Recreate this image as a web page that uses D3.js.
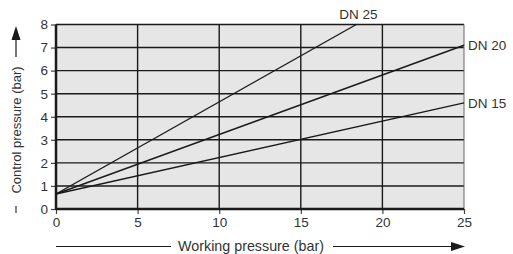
<!DOCTYPE html>
<html><head><meta charset="utf-8">
<script src="https://cdn.jsdelivr.net/npm/d3@7"></script>
<style>
body{margin:0;background:#fff;}
svg{display:block;font-family:"Liberation Sans",Arial,sans-serif;}
</style></head>
<body>
<svg id="c" width="513" height="254"></svg>
<script>
const xTicks = [0, 5, 10, 15, 20, 25];
const yTicks = [0, 1, 2, 3, 4, 5, 6, 7, 8];
const seriesNames = ["DN 25", "DN 20", "DN 15"];
const dn25 = [[0, 0.65], [18.4, 8]];
const dn20 = [[0, 0.65], [25, 7.1]];
const dn15 = [[0, 0.65], [25, 4.6]];
const xTitle = "Working pressure (bar)";
const yTitle = "Control pressure (bar)";

const svg = d3.select("#c");
const L = 56, R = 464, T = 24.5, B = 209;
const x = d3.scaleLinear().domain([0, 25]).range([L, R]);
const y = d3.scaleLinear().domain([0, 8]).range([B, T]);
const ink = "#1a1a1a", txt = "#333";

svg.append("rect").attr("x", L).attr("y", T).attr("width", R - L).attr("height", B - T).attr("fill", "#e6e6e6");

// grid
svg.append("g").selectAll("line").data(yTicks.filter(d => d > 0)).join("line")
  .attr("x1", L).attr("x2", R).attr("y1", d => y(d)).attr("y2", d => y(d))
  .attr("stroke", ink).attr("stroke-width", 1.4);
svg.append("g").selectAll("line").data(xTicks.filter(d => d > 0 && d < 25)).join("line")
  .attr("y1", T).attr("y2", B).attr("x1", d => x(d)).attr("x2", d => x(d))
  .attr("stroke", ink).attr("stroke-width", 1.4);
svg.append("line").attr("x1", R).attr("x2", R).attr("y1", T).attr("y2", B).attr("stroke", "#666").attr("stroke-width", 1);

// axes
const xAxis = d3.axisBottom(x).tickValues(xTicks).tickSize(5).tickPadding(3).tickFormat(d3.format("d"));
const gx = svg.append("g").attr("transform", `translate(0,${B})`).call(xAxis);
const yAxis = d3.axisLeft(y).tickValues(yTicks).tickSize(5).tickPadding(3).tickFormat(d3.format("d"));
const gy = svg.append("g").attr("transform", `translate(${L},0)`).call(yAxis);
[gx, gy].forEach(g => {
  g.select(".domain").remove();
  g.selectAll(".tick line").attr("stroke", "#444").attr("stroke-width", 1.2);
  g.selectAll(".tick text").attr("fill", txt).attr("font-size", 13.5).attr("font-family", "'Liberation Sans',Arial,sans-serif");
});
svg.append("line").attr("x1", L).attr("x2", R).attr("y1", B).attr("y2", B).attr("stroke", ink).attr("stroke-width", 2.5);
svg.append("line").attr("x1", L).attr("x2", L).attr("y1", T).attr("y2", B + 1).attr("stroke", ink).attr("stroke-width", 2.5);

// series
const line = d3.line().x(d => x(d[0])).y(d => y(d[1]));
[dn25, dn20, dn15].forEach(s => {
  svg.append("path").attr("d", line(s)).attr("fill", "none").attr("stroke", ink).attr("stroke-width", 1.4);
});

// labels
const fs = 13.5;
svg.append("text").attr("x", x(dn25[1][0]) - 17).attr("y", 19).text(seriesNames[0]).attr("font-size", fs).attr("fill", txt);
svg.append("text").attr("x", R + 4).attr("y", y(dn20[1][1]) + 5).text(seriesNames[1]).attr("font-size", fs).attr("fill", txt);
svg.append("text").attr("x", R + 4).attr("y", y(dn15[1][1]) + 5).text(seriesNames[2]).attr("font-size", fs).attr("fill", txt);

// x title with arrows
svg.append("text").attr("x", 251).attr("y", 251).attr("text-anchor", "middle").attr("font-size", 14.3).attr("fill", txt).text(xTitle);
svg.append("line").attr("x1", 56).attr("x2", 171).attr("y1", 246.5).attr("y2", 246.5).attr("stroke", ink).attr("stroke-width", 1.2);
svg.append("line").attr("x1", 333).attr("x2", 455).attr("y1", 246.5).attr("y2", 246.5).attr("stroke", ink).attr("stroke-width", 1.2);
svg.append("path").attr("d", "M465,246.5 L451,242 L451,251 Z").attr("fill", ink);

// y title with arrows
svg.append("text").attr("transform", "translate(21,130) rotate(-90)").attr("text-anchor", "middle")
  .attr("font-size", 13).attr("fill", txt).text(yTitle);
svg.append("line").attr("x1", 16).attr("x2", 16).attr("y1", 206).attr("y2", 213).attr("stroke", txt).attr("stroke-width", 1.2);
svg.append("line").attr("x1", 16).attr("x2", 16).attr("y1", 57).attr("y2", 38).attr("stroke", ink).attr("stroke-width", 1.2);
svg.append("path").attr("d", "M16,26 L11.5,40 L20.5,40 Z").attr("fill", ink);
</script>
</body></html>
